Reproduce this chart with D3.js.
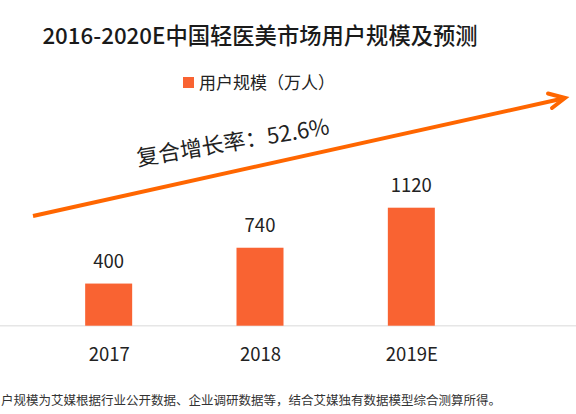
<!DOCTYPE html>
<html>
<head>
<meta charset="utf-8">
<script src="https://cdn.jsdelivr.net/npm/d3@7"></script>
<style>
html,body{margin:0;padding:0;background:#fff;overflow:hidden;}
svg{display:block;font-family:"Noto Sans CJK SC","Noto Sans",sans-serif;}
</style>
</head>
<body>
<svg id="chart" width="576" height="414"></svg>
<script>
const categories = ["2017", "2018", "2019E"];
const values = [400, 740, 1120];
const title = "2016-2020E中国轻医美市场用户规模及预测";
const legendLabel = "用户规模（万人）";
const cagrLabel = "复合增长率：52.6%";
const footnote = "户规模为艾媒根据行业公开数据、企业调研数据等，结合艾媒独有数据模型综合测算所得。";

const svg = d3.select("#chart");
const barColor = "#F96332";
const arrowColor = "#FF6600";
const baseY = 325.7;

const x = d3.scalePoint().domain(categories).range([33, 487]).padding(0.5);
const y = d3.scaleLinear().domain([0, 1120]).range([baseY, 207.7]);
const barW = 47;

// title
svg.append("text").attr("x", 260).attr("y", 44).attr("text-anchor", "middle")
  .attr("font-size", 22.3).attr("font-weight", 500).attr("fill", "#1a1a1a").text(title);

// legend
svg.append("rect").attr("x", 183).attr("y", 77).attr("width", 11).attr("height", 11).attr("fill", barColor);
svg.append("text").attr("x", 199).attr("y", 88.5).attr("font-size", 17).attr("fill", "#222").text(legendLabel);

// baseline
svg.append("line").attr("x1", 0).attr("x2", 576).attr("y1", baseY).attr("y2", baseY)
  .attr("stroke", "#e6e6e6").attr("stroke-width", 1.5);

// bars
svg.selectAll("rect.bar").data(values).join("rect").attr("class", "bar")
  .attr("x", (d, i) => x(categories[i]) - barW / 2)
  .attr("y", d => y(d))
  .attr("width", barW)
  .attr("height", d => baseY - y(d))
  .attr("fill", barColor);

// value labels
svg.selectAll("text.val").data(values).join("text").attr("class", "val")
  .attr("x", (d, i) => x(categories[i]))
  .attr("y", d => y(d) - 15.5)
  .attr("text-anchor", "middle").attr("font-size", 18.5).attr("fill", "#222")
  .text(d => d);

// x axis
const xAxis = d3.axisBottom(x).tickSize(0).tickPadding(0);
const gx = svg.append("g").attr("transform", `translate(0,${baseY})`).call(xAxis);
gx.select(".domain").remove();
gx.selectAll("text").attr("dy", "1.9em").attr("font-size", 18.5)
  .attr("font-family", '"Noto Sans CJK SC","Noto Sans",sans-serif').attr("fill", "#222");

// growth arrow
const a0 = [33, 216], a1 = [565, 98];
svg.append("line").attr("x1", a0[0]).attr("y1", a0[1]).attr("x2", a1[0] - 2).attr("y2", a1[1] + 0.5)
  .attr("stroke", arrowColor).attr("stroke-width", 4);
svg.append("path").attr("d", `M548,93.5 L${a1[0]},${a1[1]} L552,108`)
  .attr("fill", "none").attr("stroke", arrowColor).attr("stroke-width", 4)
  .attr("stroke-linejoin", "miter").attr("stroke-linecap", "round");

// CAGR label
svg.append("text").attr("transform", "translate(138,166) rotate(-9.5)")
  .attr("font-size", 22).attr("fill", "#222").text(cagrLabel);

// footnote
svg.append("text").attr("x", 1).attr("y", 405).attr("font-size", 12.5).attr("fill", "#333").text(footnote);
</script>
</body>
</html>
